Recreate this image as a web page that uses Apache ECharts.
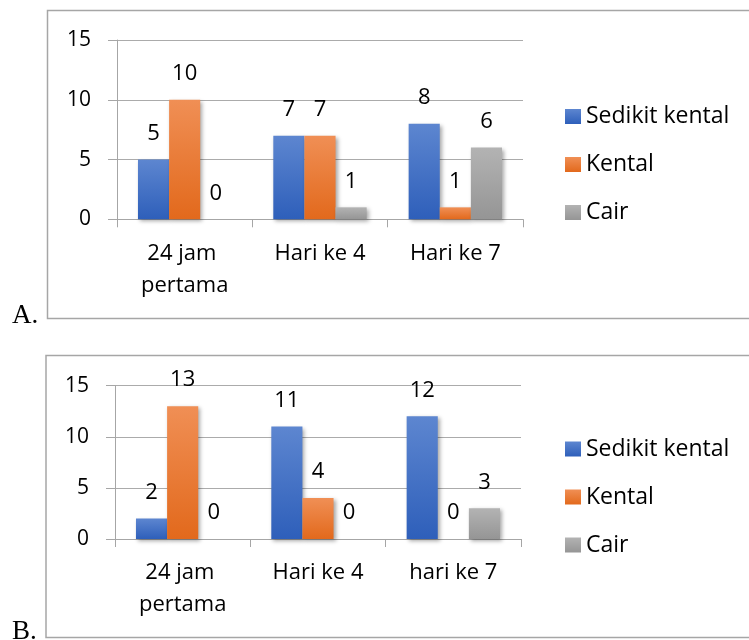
<!DOCTYPE html>
<html><head><meta charset="utf-8">
<script src="https://cdn.jsdelivr.net/npm/echarts@6/dist/echarts.min.js"></script>
<style>html,body{margin:0;padding:0;background:#fff}#c{width:749px;height:640px}</style>
</head><body><div id="c"></div>
<script>
const categoriesA = ['24 jam pertama', 'Hari ke 4', 'Hari ke 7'];
const categoriesB = ['24 jam pertama', 'Hari ke 4', 'hari ke 7'];
const seriesNames = ['Sedikit kental', 'Kental', 'Cair'];
const sedikitKentalA = [5, 7, 8];
const kentalA = [10, 7, 1];
const cairA = [0, 1, 6];
const sedikitKentalB = [2, 11, 12];
const kentalB = [13, 4, 0];
const cairB = [0, 0, 3];
const yTicks = [0, 5, 10, 15];

const FONT = 'Open Sans';
const grad = (a, b) => new echarts.graphic.LinearGradient(0, 0, 0, 1, [{offset: 0, color: a}, {offset: 1, color: b}]);
const colors = [grad('#5d86d0', '#2e5fba'), grad('#f08f55', '#e2691c'), grad('#b3b3b3', '#959595')];

const chart = echarts.init(document.getElementById('c'), null, {renderer: 'canvas'});

function xAx(idx, cats) {
  return {
    type: 'category', gridIndex: idx, data: cats,
    axisLine: {lineStyle: {color: '#a6a6a6', width: 1}},
    axisTick: {show: true, length: 8, lineStyle: {color: '#a6a6a6'}},
    axisLabel: {color: '#000', fontFamily: FONT, fontSize: 22, lineHeight: 32, margin: 18,
      width: 120, overflow: 'break', interval: 0}
  };
}
function yAx(idx) {
  return {
    type: 'value', gridIndex: idx, min: yTicks[0], max: yTicks[yTicks.length - 1], interval: 5,
    axisLine: {show: true, lineStyle: {color: '#a6a6a6', width: 1}},
    axisTick: {show: true, length: 9, lineStyle: {color: '#a6a6a6'}},
    splitLine: {lineStyle: {color: '#ababab', width: 1}},
    axisLabel: {color: '#000', fontFamily: FONT, fontSize: 21, margin: 26}
  };
}
function bar(name, data, idx, ci) {
  return {
    name: name, type: 'bar', xAxisIndex: idx, yAxisIndex: idx, data: data,
    barGap: '0%', barCategoryGap: '31%',
    itemStyle: {color: colors[ci], shadowBlur: 4, shadowOffsetX: 2, shadowOffsetY: 2, shadowColor: 'rgba(0,0,0,0.35)'},
    label: {show: true, position: 'top', distance: 15, color: '#000', fontFamily: FONT, fontSize: 22, lineHeight: 22},
    animation: false
  };
}
function legend(top) {
  return {
    orient: 'vertical', left: 565, top: top, padding: 0, itemWidth: 16, itemHeight: 15, itemGap: 25,
    icon: 'rect', data: seriesNames,
    textStyle: {color: '#000', fontFamily: FONT, fontSize: 23, lineHeight: 23}
  };
}

chart.setOption({
  animation: false,
  grid: [
    {left: 117, top: 40, width: 406, height: 179.3},
    {left: 115, top: 385.7, width: 406, height: 153.3}
  ],
  xAxis: [xAx(0, categoriesA), xAx(1, categoriesB)],
  yAxis: [yAx(0), yAx(1)],
  legend: [legend(105), legend(437.5)],
  series: [
    bar(seriesNames[0], sedikitKentalA, 0, 0),
    bar(seriesNames[1], kentalA, 0, 1),
    bar(seriesNames[2], cairA, 0, 2),
    bar(seriesNames[0], sedikitKentalB, 1, 0),
    bar(seriesNames[1], kentalB, 1, 1),
    bar(seriesNames[2], cairB, 1, 2)
  ],
  graphic: [
    {type: 'rect', shape: {x: 47.5, y: 10.5, width: 760, height: 308}, style: {fill: 'none', stroke: '#a6a6a6', lineWidth: 1.5}, silent: true, z: -1},
    {type: 'rect', shape: {x: 46, y: 355.5, width: 760, height: 282}, style: {fill: 'none', stroke: '#a6a6a6', lineWidth: 1.5}, silent: true, z: -1},
    {type: 'text', x: 12, y: 329, style: {text: 'A.', fontSize: 27, fontFamily: 'Liberation Serif', fill: '#000', textVerticalAlign: 'bottom', verticalAlign: 'bottom'}},
    {type: 'text', x: 12, y: 645, style: {text: 'B.', fontSize: 27, fontFamily: 'Liberation Serif', fill: '#000', textVerticalAlign: 'bottom', verticalAlign: 'bottom'}}
  ]
});
</script></body></html>
